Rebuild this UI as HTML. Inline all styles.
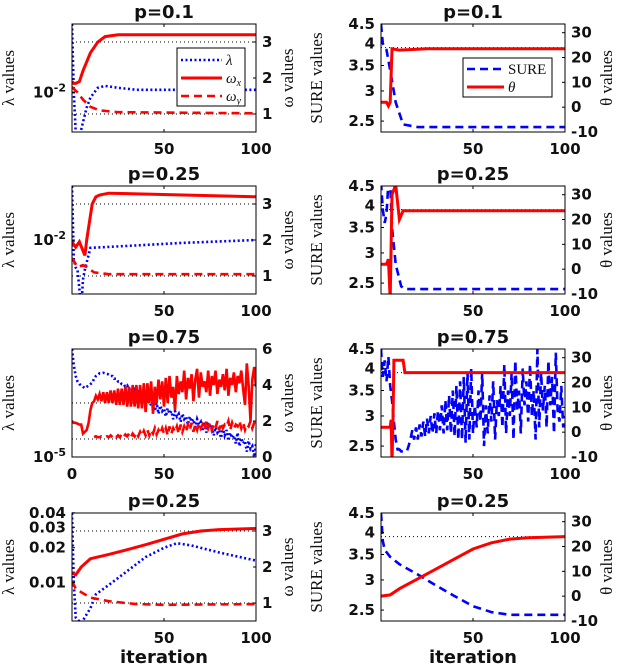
<!DOCTYPE html>
<html><head><meta charset="utf-8">
<style>
html,body{margin:0;padding:0;background:#fff;}
svg{display:block;}
.tk{font-family:"DejaVu Sans","Liberation Sans",sans-serif;font-weight:bold;font-size:15px;fill:#111;}
.tt{font-family:"DejaVu Sans","Liberation Sans",sans-serif;font-weight:bold;font-size:18px;fill:#111;}
.yl{font-family:"Liberation Serif","DejaVu Serif",serif;font-size:17px;fill:#111;}
.lg{font-family:"Liberation Serif","DejaVu Serif",serif;font-size:15px;fill:#111;}
</style></head>
<body>
<svg id="fig" width="622" height="668" viewBox="0 0 622 668" xmlns="http://www.w3.org/2000/svg"></svg>
<script>
// ---------- DATA ----------
// Left column: lambda stored as log10(lambda); omega linear
const it1Lam=[0,1,2,3,4,6,8,10,14,18,25,35,60,100];
const lam1=[-1.3,-2.0,-2.4,-2.5,-2.45,-2.3,-2.15,-2.05,-1.95,-1.93,-1.95,-1.97,-1.97,-1.97];
const it1Wx=[0,1,2,4,6,10,14,18,25,100];
const wx1=[1.9,1.85,1.85,1.9,2.2,2.7,3.0,3.15,3.2,3.2];
const it1Wy=[0,3,6,10,15,25,100];
const wy1=[1.75,1.6,1.4,1.2,1.1,1.05,1.02];

const it2Lam=[0,1,2,3,4,5,6,7,10,30,60,100];
const lam2=[-1.45,-2.2,-2.28,-2.3,-2.5,-2.7,-2.4,-2.3,-2.08,-2.06,-2.03,-2.0];
const it2Wx=[0,2,4,6,7,8,11,13,15,20,100];
const wx2=[1.95,1.8,1.95,1.7,1.57,2.0,3.0,3.2,3.25,3.3,3.2];
const it2Wy=[0,3,6,8,12,20,100];
const wy2=[1.5,1.25,1.3,1.25,1.1,1.05,1.05];

const lam3=[-1,-1.6,-2.0,-2.2,-2.3,-2.35,-2.4,-2.45,-2.4,-2.35,-2.3,-2.25,
-2.1,-2.0,-1.95,-1.9,-1.9,-1.88,-1.9,-1.92,-1.95,-2.0,-2.0,-2.1,-2.1,-2.2,-2.2,-2.3,-2.3,-2.4,-2.35,-2.5,-2.45,-2.6,-2.5,-2.7,-2.6,-2.8,-2.7,-2.9,-2.8,
-3.0,-2.9,-3.1,-2.95,-3.3,-3.0,-3.4,-3.1,-3.3,-3.2,-3.5,-3.2,-3.4,-3.3,-3.6,-3.3,-3.5,-3.4,-3.7,-3.4,
-3.6,-3.5,-3.8,-3.5,-3.7,-3.6,-3.9,-3.6,-3.8,-3.7,-4.0,-3.7,-4.1,-3.8,-3.9,-3.8,-4.2,-3.9,-4.1,-4.0,
-4.3,-3.9,-4.2,-4.0,-4.4,-4.1,-4.3,-4.2,-4.5,-4.1,-4.6,-4.3,-4.5,-4.4,-4.8,-4.4,-4.7,-4.6,-5.0,-4.5];
const wx3=[2.0,1.9,1.9,1.85,1.8,1.8,1.3,1.4,1.5,1.9,2.6,3.0,
3.1,3.4,3.2,3.5,3.1,3.6,3.0,3.6,3.0,3.7,3.0,3.7,2.9,3.8,2.9,3.8,2.9,3.9,2.8,3.9,2.8,4.0,2.8,4.0,2.7,4.0,2.7,4.1,2.5,
4.1,3.0,4.2,2.4,3.9,3.0,4.3,3.2,4.2,2.8,4.4,3.0,4.5,3.3,3.9,2.6,4.5,3.5,4.2,3.6,
4.8,3.2,4.4,3.8,4.6,3.1,4.3,4.9,3.3,4.7,3.9,4.2,3.6,4.8,3.4,4.5,4.0,4.8,3.5,4.3,
3.9,4.6,3.7,4.9,3.4,4.4,4.0,4.7,3.6,4.5,4.1,4.8,3.8,2.9,5.2,4.0,2.0,4.3,5.0,3.9];
const wy3=[null,null,null,null,null,null,null,null,null,null,null,null,
1.1,1.15,1.1,1.1,1.15,1.1,1.1,1.15,1.1,1.2,1.1,1.2,1.1,1.2,1.1,1.25,1.1,1.25,1.15,1.3,1.1,1.3,1.15,1.35,1.15,1.4,1.2,1.45,1.2,
1.5,1.2,1.5,1.3,1.6,1.25,1.5,1.3,1.6,1.3,1.6,1.2,1.7,1.3,1.6,1.4,1.7,1.3,1.8,1.4,
1.7,1.4,1.8,1.5,1.9,1.4,1.8,1.5,1.9,1.6,1.8,1.5,2.0,1.6,1.9,1.5,1.8,1.6,2.0,1.5,
1.9,1.6,1.8,1.7,2.0,1.5,1.9,1.6,1.8,1.7,2.0,1.6,1.9,1.5,1.8,1.7,2.0,1.6,1.9,1.8];

const it4Lam=[0,1,2,5,10,13,20,30,40,50,57,65,80,100];
const lam4=[-1.4,-2.0,-2.3,-2.35,-2.22,-2.1,-2.02,-1.9,-1.78,-1.7,-1.66,-1.68,-1.74,-1.81];
const it4Wx=[0,2,5,10,20,30,40,50,60,70,80,100];
const wx4=[1.84,1.78,2.0,2.23,2.35,2.48,2.62,2.77,2.92,3.0,3.04,3.07];
const it4Wy=[0,2,5,10,20,35,50,100];
const wy4=[1.6,1.4,1.3,1.15,1.05,0.97,0.95,0.97];

// Right column: SURE (log axis) and theta
const itR1S=[0,1,3,5,8,12,20,100];
const sure1=[4.5,4.0,3.85,3.4,2.8,2.45,2.41,2.41];
const itR1T=[0,3,4,5,6,10,25,100];
const theta1=[2,2,0.5,2,23.5,23,23.5,23.5];

const itR2S=[0,1,2,3,4,5,6,8,11,13,100];
const sure2=[4.6,3.9,3.6,3.8,4.6,4.6,3.5,2.8,2.45,2.41,2.41];
const itR2T=[0,3,4,5,6,8,10,12,100];
const theta2=[2,2,4,-12,30,34,20,23.5,23.5];

const sure3=[4.5,3.8,4.2,3.7,4.3,3.6,3.3,2.9,2.6,2.45,2.45,2.42,2.42,2.42,2.42,
2.5,2.6,2.75,2.6,2.8,2.6,2.85,2.65,2.9,2.65,2.95,2.7,3.0,2.7,3.05,
2.7,3.1,2.75,3.2,2.7,3.3,2.75,3.4,2.7,3.5,2.65,3.6,2.6,3.7,2.6,3.8,2.55,3.9,2.6,4.0,
2.7,3.2,2.8,3.5,2.9,3.9,2.5,3.2,2.7,3.4,2.9,3.7,2.6,3.3,3.0,3.6,2.8,4.1,2.7,3.5,
3.0,3.9,2.6,4.2,3.1,3.5,2.7,4.0,3.2,3.7,2.9,4.1,3.0,3.5,2.6,4.5,2.8,3.9,3.1,3.6,
2.8,4.2,3.2,3.8,2.7,4.4,3.1,2.9,3.6,2.8,3.0];
const itR3T=[0,5,5.5,6,6.5,7,12,13,100];
const theta3=[2,2,5,-12,5,29,29,24,24];

const itR4S=[0,1,2,5,10,20,30,40,50,60,70,100];
const sure4=[4.5,3.8,3.6,3.45,3.3,3.1,2.9,2.72,2.56,2.47,2.43,2.43];
const itR4T=[0,5,10,20,30,40,50,60,70,80,100];
const theta4=[0,0.5,3,7,11,15,19,21.5,23,23.5,24];

const titles=["p=0.1","p=0.25","p=0.75","p=0.25"];
const xTicks=[50,100];
const xTicks3=[0,50,100];
const sureTicks=[2.5,3,3.5,4,4.5];
const thetaTicks=[-10,0,10,20,30];

// ---------- DRAWING ----------
const NS="http://www.w3.org/2000/svg";
const svg=document.getElementById('fig');
function mk(tag,attrs,parent){const e=document.createElementNS(NS,tag);for(const k in attrs)e.setAttribute(k,attrs[k]);(parent||svg).appendChild(e);return e;}
const rowsTop=[24,186,349,513], H=108, colX=[72,381], W=184;
function idx(arr){return arr.map((_,i)=>i);}
function line(g,xs,ys,sx,sy,style,name){
  let d="",pen=false;
  for(let i=0;i<xs.length;i++){
    if(ys[i]===null){pen=false;continue;}
    d+=(pen?"L":"M")+sx(xs[i]).toFixed(1)+" "+sy(ys[i]).toFixed(1)+" ";pen=true;
  }
  const p=mk('path',Object.assign({d:d,fill:'none'},style),g);
  
  
  return p;
}
const blueDot={stroke:'#0000ff','stroke-width':2.6,'stroke-dasharray':'2 2.5'};
const redSolid={stroke:'#ff0000','stroke-width':3};
const redDash={stroke:'#ff0000','stroke-width':2.6,'stroke-dasharray':'8 5'};
const blueDash={stroke:'#0000ff','stroke-width':2.6,'stroke-dasharray':'8 5'};
const refStyle={stroke:'#000','stroke-width':1,'stroke-dasharray':'1 3'};

function panel(r,c,cfg){
  const x0=colX[c],y0=rowsTop[r];
  const g=mk('g',{});
  
  
  const sx=v=>x0+v/100*W;
  const tf=cfg.logL?(v=>Math.log(v)):(v=>v);
  const syL=v=>y0+H-(tf(v)-tf(cfg.lmin))/(tf(cfg.lmax)-tf(cfg.lmin))*H;
  const syR=v=>y0+H-(v-cfg.rmin)/(cfg.rmax-cfg.rmin)*H;
  const cid='clip'+r+c;
  const cp=mk('clipPath',{id:cid},g);mk('rect',{x:x0,y:y0,width:W,height:H},cp);
  const inner=mk('g',{'clip-path':'url(#'+cid+')'},g);
  cfg.refs.forEach(v=>{const l=mk('line',Object.assign({x1:x0,x2:x0+W,y1:syR(v),y2:syR(v)},refStyle),inner);
    });
  cfg.series.forEach(s=>line(inner,s.x,s.y,sx,s.axis==='L'?syL:syR,s.style,s.name));
  const box=mk('rect',{x:x0,y:y0,width:W,height:H,fill:'none',stroke:'#000','stroke-width':1},g);
  
  cfg.xt.forEach(v=>{
    mk('line',{x1:sx(v),x2:sx(v),y1:y0+H,y2:y0+H-3,stroke:'#000'},g);
    mk('line',{x1:sx(v),x2:sx(v),y1:y0,y2:y0+3,stroke:'#000'},g);
    const t=mk('text',{x:sx(v),y:y0+H+22,'text-anchor':'middle',class:'tk'},g);t.textContent=v;
    
  });
  cfg.lt.forEach(tk=>{
    const y=syL(tk.v);
    const t=mk('text',{x:x0-6,y:y+5,'text-anchor':'end',class:'tk'},g);
    if(tk.sup){t.textContent=tk.base;const s=mk('tspan',{dy:-6,'font-size':'11px'},t);s.textContent=tk.sup;}
    else t.textContent=tk.label;
    
    mk('line',{x1:x0,x2:x0+3,y1:y,y2:y,stroke:'#000'},g);
  });
  cfg.rt.forEach(v=>{
    const y=syR(v);
    const t=mk('text',{x:x0+W+6,y:y+5,'text-anchor':'start',class:'tk'},g);t.textContent=v;
    
    mk('line',{x1:x0+W,x2:x0+W-3,y1:y,y2:y,stroke:'#000'},g);
  });
  const tt=mk('text',{x:x0+W/2,y:y0-6,'text-anchor':'middle',class:'tt'},g);tt.textContent=titles[r];
  
  const ly=y0+H/2;
  const lx=c===0?14:322, rx=c===0?293:612;
  const l1=mk('text',{x:lx,y:ly,'text-anchor':'middle',class:'yl',transform:'rotate(-90 '+lx+' '+ly+')'},g);l1.textContent=cfg.ylab;
  
  const l2=mk('text',{x:rx,y:ly,'text-anchor':'middle',class:'yl',transform:'rotate(-90 '+rx+' '+ly+')'},g);l2.textContent=cfg.ylab2;
  
}

const dec2={v:-2,base:'10',sup:'-2'};
panel(0,0,{name:'lambda-omega-p01',lmin:-2.4,lmax:-1.3,rmin:0.5,rmax:3.5,refs:[3,1],xt:xTicks,
  lt:[dec2],rt:[1,2,3],ylab:'λ values',ylab2:'ω values',
  series:[{x:it1Lam,y:lam1,axis:'L',style:blueDot,name:'lambda-series'},
          {x:it1Wx,y:wx1,axis:'R',style:redSolid,name:'omega-x-series'},
          {x:it1Wy,y:wy1,axis:'R',style:redDash,name:'omega-y-series'}]});
panel(1,0,{name:'lambda-omega-p025',lmin:-2.55,lmax:-1.45,rmin:0.5,rmax:3.5,refs:[3,1],xt:xTicks,
  lt:[dec2],rt:[1,2,3],ylab:'λ values',ylab2:'ω values',
  series:[{x:it2Lam,y:lam2,axis:'L',style:blueDot,name:'lambda-series'},
          {x:it2Wx,y:wx2,axis:'R',style:redSolid,name:'omega-x-series'},
          {x:it2Wy,y:wy2,axis:'R',style:redDash,name:'omega-y-series'}]});
panel(2,0,{name:'lambda-omega-p075',lmin:-5,lmax:-1,rmin:0,rmax:6,refs:[3,1],xt:xTicks3,
  lt:[{v:-5,base:'10',sup:'-5'}],rt:[0,2,4,6],ylab:'λ values',ylab2:'ω values',
  series:[{x:idx(lam3),y:lam3,axis:'L',style:blueDot,name:'lambda-series'},
          {x:idx(wx3),y:wx3,axis:'R',style:{stroke:'#ff0000','stroke-width':2.6},name:'omega-x-series'},
          {x:idx(wy3),y:wy3,axis:'R',style:redDash,name:'omega-y-series'}]});
panel(3,0,{name:'lambda-omega-p025-b',lmin:-2.33,lmax:-1.4,rmin:0.5,rmax:3.5,refs:[3,1],xt:xTicks,
  lt:[{v:Math.log10(0.01),label:'0.01'},{v:Math.log10(0.02),label:'0.02'},{v:Math.log10(0.03),label:'0.03'},{v:Math.log10(0.04),label:'0.04'}],
  rt:[1,2,3],ylab:'λ values',ylab2:'ω values',
  series:[{x:it4Lam,y:lam4,axis:'L',style:blueDot,name:'lambda-series'},
          {x:it4Wx,y:wx4,axis:'R',style:redSolid,name:'omega-x-series'},
          {x:it4Wy,y:wy4,axis:'R',style:redDash,name:'omega-y-series'}]});

const rc={logL:true,lmin:2.34,lmax:4.5,rmin:-10,rmax:33.5,refs:[24],lt:sureTicks.map(v=>({v:v,label:String(v)})),rt:thetaTicks,ylab:'SURE values',ylab2:'θ values'};
panel(0,1,Object.assign({name:'sure-theta-p01',xt:xTicks,series:[
  {x:itR1S,y:sure1,axis:'L',style:blueDash,name:'sure-series'},
  {x:itR1T,y:theta1,axis:'R',style:redSolid,name:'theta-series'}]},rc));
panel(1,1,Object.assign({name:'sure-theta-p025',xt:xTicks,series:[
  {x:itR2S,y:sure2,axis:'L',style:blueDash,name:'sure-series'},
  {x:itR2T,y:theta2,axis:'R',style:redSolid,name:'theta-series'}]},rc));
panel(2,1,Object.assign({name:'sure-theta-p075',xt:xTicks,series:[
  {x:idx(sure3),y:sure3,axis:'L',style:blueDash,name:'sure-series'},
  {x:itR3T,y:theta3,axis:'R',style:redSolid,name:'theta-series'}]},rc));
panel(3,1,Object.assign({name:'sure-theta-p025-b',xt:xTicks,series:[
  {x:itR4S,y:sure4,axis:'L',style:blueDash,name:'sure-series'},
  {x:itR4T,y:theta4,axis:'R',style:redSolid,name:'theta-series'}]},rc));

[164,473].forEach(cx=>{const t=mk('text',{x:cx,y:663,'text-anchor':'middle',class:'tt'});t.textContent='iteration';
  });

(function(){
  const g=mk('g',{});
  mk('rect',{x:177,y:48,width:68,height:58,fill:'#fff',stroke:'#000','stroke-width':1},g);
  const items=[[blueDot,'λ',null],[redSolid,'ω','x'],[redDash,'ω','y']];
  items.forEach((it,i)=>{const y=60+i*18;
    mk('line',Object.assign({x1:181,x2:222,y1:y,y2:y},it[0]),g);
    const t=mk('text',{x:226,y:y+5,class:'lg','font-style':'italic'},g);t.textContent=it[1];
    if(it[2]){const s=mk('tspan',{dy:3,'font-size':'10px'},t);s.textContent=it[2];}
    });
  const g2=mk('g',{});
  mk('rect',{x:463,y:58,width:89,height:39,fill:'#fff',stroke:'#000','stroke-width':1},g2);
  [[blueDash,'SURE'],[redSolid,'θ']].forEach((it,i)=>{const y=69+i*18;
    mk('line',Object.assign({x1:467,x2:504,y1:y,y2:y},it[0]),g2);
    const t=mk('text',{x:508,y:y+5,class:'lg','font-style':i?'italic':'normal'},g2);t.textContent=it[1];
    });
})();
</script>
</body></html>
